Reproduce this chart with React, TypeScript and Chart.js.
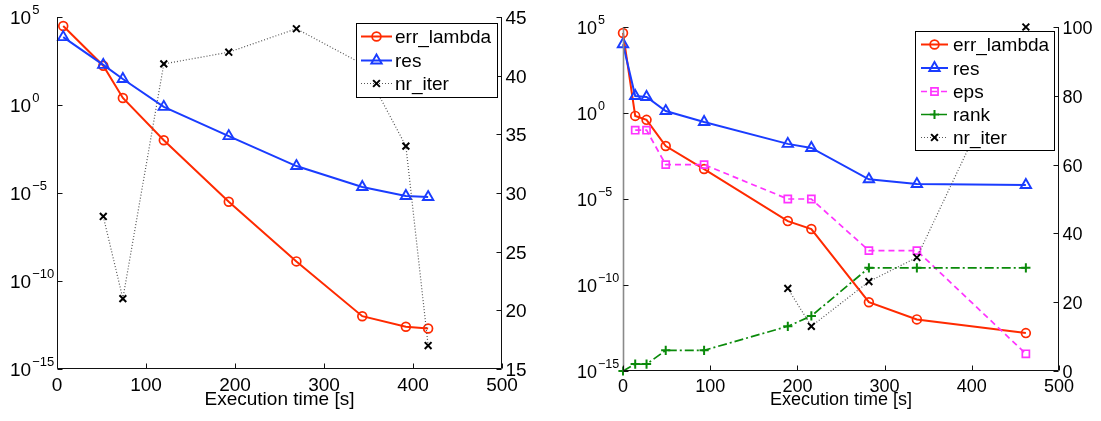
import React, { useEffect, useRef } from 'react';
import { Chart, registerables } from 'chart.js';

Chart.register(...registerables);

const FONT = '"Liberation Sans", Arial, Helvetica, sans-serif';

// ---------- Left panel data ----------
const leftTime = [7, 52, 74, 120, 193, 269, 343, 392, 417];
const leftErrLambda = [3.1e4, 1.7e2, 2.5, 1.0e-2, 3.2e-6, 1.3e-9, 1.0e-12, 2.5e-13, 2.0e-13];
const leftRes = [7.2e3, 1.9e2, 30, 0.78, 1.7e-2, 3.4e-4, 2.2e-5, 6.8e-6, 5.9e-6];
const leftNrIter = [null, 28, 21, 41, 42, 44, 41, 34, 17];

// ---------- Right panel data ----------
const rightTime = [0, 14, 27, 49, 93, 189, 216, 282, 337, 462];
const rightErrLambda = [4.5e4, 0.68, 0.4, 1.2e-2, 5.5e-4, 5.2e-7, 1.8e-7, 1.0e-11, 1.0e-12, 1.6e-13];
const rightRes = [1.0e4, 9.8, 8.5, 1.3, 0.3, 1.6e-2, 9.3e-3, 1.4e-4, 7.4e-5, 6.5e-5];
const rightEps = [null, 0.1, 0.1, 1e-3, 1e-3, 1e-5, 1e-5, 1e-8, 1e-8, 1e-14];
const rightRank = [0, 2, 2, 6, 6, 13, 16, 30, 30, 30];
const rightNrIter = [null, null, null, null, null, 24, 13, 26, 33, 100];

// ---------- Ticks / labels ----------
const xTicks = [0, 100, 200, 300, 400, 500];
const logTickExponents = [5, 0, -5, -10, -15];
const leftIterTicks = [15, 20, 25, 30, 35, 40, 45];
const rightIterTicks = [0, 20, 40, 60, 80, 100];
const xAxisTitle = 'Execution time [s]';
const leftLegendItems = ['err_lambda', 'res', 'nr_iter'];
const rightLegendItems = ['err_lambda', 'res', 'eps', 'rank', 'nr_iter'];

type Style = {
  color: string;
  pointColor?: string;
  dash: number[];
  width: number;
  point: string;
  radius: number;
  pointWidth: number;
};

const STYLES: Record<string, Style> = {
  err_lambda: { color: '#ff2a00', dash: [], width: 2, point: 'circle', radius: 4.4, pointWidth: 1.7 },
  res: { color: '#1a3cff', dash: [], width: 2, point: 'triangle', radius: 6, pointWidth: 1.9 },
  eps: { color: '#ff33ff', dash: [6, 4], width: 1.7, point: 'rect', radius: 5, pointWidth: 1.7 },
  rank: { color: '#0a8a0a', dash: [9, 3, 2, 3], width: 1.7, point: 'cross', radius: 4.6, pointWidth: 2 },
  nr_iter: { color: '#555555', pointColor: '#000000', dash: [1, 2], width: 1.2, point: 'crossRot', radius: 4.8, pointWidth: 2 },
};

function dataset(label: string, xs: number[], ys: (number | null)[], axis: string, order: number) {
  const s = STYLES[label];
  return {
    label,
    data: xs.map((x, i) => ({ x, y: ys[i] })),
    yAxisID: axis,
    order,
    borderColor: s.color,
    borderWidth: s.width,
    borderDash: s.dash,
    pointStyle: s.point,
    pointRadius: s.radius,
    pointHoverRadius: s.radius,
    pointBorderColor: s.pointColor ?? s.color,
    pointBackgroundColor: 'rgba(0,0,0,0)',
    pointBorderWidth: s.pointWidth,
    fill: false,
    tension: 0,
    spanGaps: false,
    clip: false,
  };
}

function drawMarker(ctx: CanvasRenderingContext2D, s: Style, x: number, y: number) {
  const r = s.radius;
  ctx.save();
  ctx.setLineDash([]);
  ctx.strokeStyle = s.pointColor ?? s.color;
  ctx.lineWidth = s.pointWidth;
  ctx.beginPath();
  switch (s.point) {
    case 'circle':
      ctx.arc(x, y, r, 0, Math.PI * 2);
      break;
    case 'triangle':
      ctx.moveTo(x, y - r);
      ctx.lineTo(x + r * Math.sin((2 * Math.PI) / 3), y - r * Math.cos((2 * Math.PI) / 3));
      ctx.lineTo(x - r * Math.sin((2 * Math.PI) / 3), y - r * Math.cos((2 * Math.PI) / 3));
      ctx.closePath();
      break;
    case 'rect': {
      const h = r * Math.SQRT1_2;
      ctx.rect(x - h, y - h, 2 * h, 2 * h);
      break;
    }
    case 'cross':
      ctx.moveTo(x, y - r);
      ctx.lineTo(x, y + r);
      ctx.moveTo(x - r, y);
      ctx.lineTo(x + r, y);
      break;
    case 'crossRot': {
      const d = r * Math.SQRT1_2;
      ctx.moveTo(x - d, y - d);
      ctx.lineTo(x + d, y + d);
      ctx.moveTo(x - d, y + d);
      ctx.lineTo(x + d, y - d);
      break;
    }
  }
  ctx.stroke();
  ctx.restore();
}

type PanelCfg = {
  logLabelX: number;
  tickFont: number;
  expFont: number;
  leftAxisColor: string;
  leftAxisWidth: number;
  rightTicks: number[];
  legendItems: string[];
  legendBox: [number, number, number, number];
  legendLine: [number, number];
  legendTextX: number;
  legendBaselines: number[];
  legendFont: number;
  titleBaseline: number;
  xLabelOffset: number;
};

function makeAxesPlugin(cfg: PanelCfg) {
  return {
    id: 'matlabAxes',
    afterDraw(chart: any) {
      const ctx: CanvasRenderingContext2D = chart.ctx;
      const { left, right, top, bottom } = chart.chartArea;
      const xs = chart.scales.x;
      const ys = chart.scales.y;
      const y1 = chart.scales.y1;
      const L = Math.round(left) + 0.5;
      const R = Math.round(right) - 0.5;
      const B = Math.round(bottom) - 0.5;
      const T = Math.round(top);
      ctx.save();
      ctx.setLineDash([]);

      // Left axis line
      ctx.strokeStyle = cfg.leftAxisColor;
      ctx.lineWidth = cfg.leftAxisWidth;
      ctx.beginPath();
      ctx.moveTo(L, T);
      ctx.lineTo(L, B);
      ctx.stroke();

      // Bottom & right axis lines
      ctx.strokeStyle = '#111';
      ctx.lineWidth = 1;
      ctx.beginPath();
      ctx.moveTo(L, B);
      ctx.lineTo(R, B);
      ctx.moveTo(R, T);
      ctx.lineTo(R, B);
      ctx.stroke();

      // Ticks (inward)
      ctx.beginPath();
      for (const e of logTickExponents) {
        const py = Math.round(ys.getPixelForValue(Math.pow(10, e))) + 0.5;
        ctx.moveTo(L, py);
        ctx.lineTo(L + 5, py);
      }
      for (const v of cfg.rightTicks) {
        const py = Math.round(y1.getPixelForValue(v)) + 0.5;
        ctx.moveTo(R, py);
        ctx.lineTo(R - 5, py);
      }
      for (const v of xTicks) {
        const px = Math.round(xs.getPixelForValue(v)) + 0.5;
        ctx.moveTo(px, B);
        ctx.lineTo(px, B - 5);
      }
      ctx.stroke();

      // Tick labels
      ctx.fillStyle = '#000';
      ctx.textBaseline = 'alphabetic';
      const baseFont = `${cfg.tickFont}px ${FONT}`;
      const expFont = `${cfg.expFont}px ${FONT}`;
      for (const e of logTickExponents) {
        const py = ys.getPixelForValue(Math.pow(10, e));
        ctx.font = baseFont;
        ctx.textAlign = 'left';
        ctx.fillText('10', cfg.logLabelX, py + 7);
        const w = ctx.measureText('10').width;
        ctx.font = expFont;
        const es = e < 0 ? '\u2212' + String(-e) : String(e);
        ctx.fillText(es, cfg.logLabelX + w + 1, py - 3.5);
      }
      ctx.font = baseFont;
      for (const v of cfg.rightTicks) {
        const py = y1.getPixelForValue(v);
        ctx.textAlign = 'left';
        ctx.fillText(String(v), right + 3.5, py + 7);
      }
      for (const v of xTicks) {
        const px = xs.getPixelForValue(v);
        ctx.textAlign = 'center';
        ctx.fillText(String(v), px, bottom + cfg.xLabelOffset);
      }
      ctx.textAlign = 'center';
      ctx.fillText(xAxisTitle, (left + right) / 2, cfg.titleBaseline);

      // Legend
      const [bx0, by0, bx1, by1] = cfg.legendBox;
      ctx.fillStyle = '#fff';
      ctx.fillRect(bx0, by0, bx1 - bx0, by1 - by0);
      ctx.strokeStyle = '#000';
      ctx.lineWidth = 1;
      ctx.strokeRect(bx0 + 0.5, by0 + 0.5, bx1 - bx0 - 1, by1 - by0 - 1);
      ctx.font = `${cfg.legendFont}px ${FONT}`;
      ctx.textAlign = 'left';
      cfg.legendItems.forEach((name, i) => {
        const s = STYLES[name];
        const base = cfg.legendBaselines[i];
        const ly = base - 6.5;
        ctx.save();
        ctx.strokeStyle = s.color;
        ctx.lineWidth = s.width;
        ctx.setLineDash(s.dash);
        ctx.beginPath();
        ctx.moveTo(cfg.legendLine[0], ly);
        ctx.lineTo(cfg.legendLine[1], ly);
        ctx.stroke();
        ctx.restore();
        drawMarker(ctx, s, (cfg.legendLine[0] + cfg.legendLine[1]) / 2, ly);
        ctx.fillStyle = '#000';
        ctx.fillText(name, cfg.legendTextX, base);
      });
      ctx.restore();
    },
  };
}

function buildConfig(
  datasets: any[],
  iterMin: number,
  iterMax: number,
  padding: { left: number; right: number; top: number; bottom: number },
  cfg: PanelCfg
) {
  return {
    type: 'line' as const,
    data: { datasets },
    options: {
      responsive: false,
      maintainAspectRatio: false,
      animation: false as const,
      events: [],
      layout: { padding, autoPadding: false },
      plugins: { legend: { display: false }, tooltip: { enabled: false } },
      scales: {
        x: { type: 'linear' as const, min: 0, max: 500, display: false },
        y: { type: 'logarithmic' as const, min: 1e-15, max: 1e5, display: false, position: 'left' as const },
        y1: { type: 'linear' as const, min: iterMin, max: iterMax, display: false, position: 'right' as const },
      },
    },
    plugins: [makeAxesPlugin(cfg)],
  };
}

export default function App() {
  const leftRef = useRef<HTMLCanvasElement>(null);
  const rightRef = useRef<HTMLCanvasElement>(null);

  useEffect(() => {
    const leftChart = new Chart(
      leftRef.current as HTMLCanvasElement,
      buildConfig(
        [
          dataset('err_lambda', leftTime, leftErrLambda, 'y', 5),
          dataset('res', leftTime, leftRes, 'y', 4),
          dataset('nr_iter', leftTime, leftNrIter, 'y1', 1),
        ],
        15,
        45,
        { left: 57, right: 48, top: 17, bottom: 52 },
        {
          logLabelX: 10,
          tickFont: 19,
          expFont: 13,
          leftAxisColor: '#111',
          leftAxisWidth: 1,
          rightTicks: leftIterTicks,
          legendItems: leftLegendItems,
          legendBox: [356, 23, 498, 98],
          legendLine: [361, 392],
          legendTextX: 395,
          legendBaselines: [43, 67, 90],
          legendFont: 19,
          titleBaseline: 405,
          xLabelOffset: 22,
        }
      ) as any
    );
    const rightChart = new Chart(
      rightRef.current as HTMLCanvasElement,
      buildConfig(
        [
          dataset('err_lambda', rightTime, rightErrLambda, 'y', 5),
          dataset('res', rightTime, rightRes, 'y', 4),
          dataset('eps', rightTime, rightEps, 'y', 3),
          dataset('rank', rightTime, rightRank, 'y1', 2),
          dataset('nr_iter', rightTime, rightNrIter, 'y1', 1),
        ],
        0,
        100,
        { left: 73, right: 42, top: 27, bottom: 50 },
        {
          logLabelX: 27,
          tickFont: 18,
          expFont: 12.5,
          leftAxisColor: '#8a8a8a',
          leftAxisWidth: 1.6,
          rightTicks: rightIterTicks,
          legendItems: rightLegendItems,
          legendBox: [365, 31, 505, 151],
          legendLine: [371, 398],
          legendTextX: 403,
          legendBaselines: [51, 74.5, 98, 121, 144],
          legendFont: 19,
          titleBaseline: 405,
          xLabelOffset: 21,
        }
      ) as any
    );
    return () => {
      leftChart.destroy();
      rightChart.destroy();
    };
  }, []);

  return (
    <div style={{ position: 'fixed', left: 0, top: 0, width: 1101, height: 421, background: '#fff' }}>
      <canvas ref={leftRef} width={550} height={421} style={{ position: 'absolute', left: 0, top: 0, display: 'block' }} />
      <canvas ref={rightRef} width={551} height={421} style={{ position: 'absolute', left: 550, top: 0, display: 'block' }} />
    </div>
  );
}
